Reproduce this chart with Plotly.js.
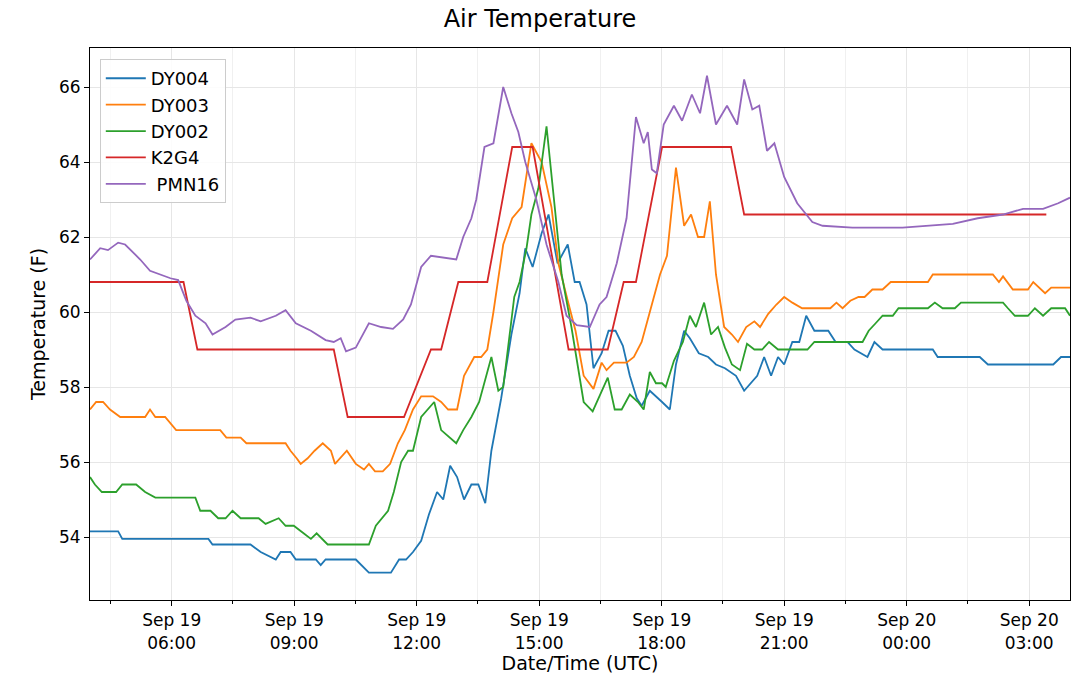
<!DOCTYPE html>
<html><head><meta charset="utf-8">
<script src="https://cdn.plot.ly/plotly-3.0.1.min.js"></script>
<style>body{margin:0;background:#fff}#c{width:1080px;height:691px}</style>
</head><body><div id="c"></div>
<script>
// hours since Sep 19 00:00 UTC, temperatures in F
const k2g4H=[4.00,6.29,6.63,9.97,10.31,11.69,12.35,12.60,13.02,13.73,14.34,14.84,15.72,16.68,17.07,17.37,18.01,19.70,20.02,27.42];
const k2g4T=[60.8,60.8,59.0,59.0,57.2,57.2,59.0,59.0,60.8,60.8,64.4,64.4,59.0,59.0,60.8,60.8,64.4,64.4,62.6,62.6];
const dy004=[[4.00,54.15],[4.69,54.15],[4.79,53.95],[6.90,53.95],[7.00,53.8],[7.93,53.8],[8.18,53.6],[8.55,53.4],[8.67,53.6],[8.91,53.6],[9.04,53.4],[9.53,53.4],[9.65,53.25],[9.77,53.4],[10.51,53.4],[10.83,53.05],[11.37,53.05],[11.57,53.4],[11.74,53.4],[11.91,53.6],[12.11,53.9],[12.30,54.6],[12.50,55.2],[12.65,55.0],[12.82,55.9],[12.99,55.6],[13.16,55.0],[13.34,55.4],[13.51,55.4],[13.68,54.9],[13.83,56.3],[14.07,57.7],[14.32,59.4],[14.52,60.5],[14.66,61.7],[14.84,61.2],[15.06,62.1],[15.23,62.6],[15.45,61.3],[15.70,61.8],[15.87,60.8],[15.99,60.8],[16.16,60.2],[16.33,58.5],[16.53,58.9],[16.70,59.5],[16.87,59.5],[17.05,59.1],[17.22,58.3],[17.39,57.7],[17.51,57.5],[17.71,57.9],[18.01,57.6],[18.20,57.4],[18.35,58.6],[18.55,59.5],[18.69,59.3],[18.91,58.9],[19.14,58.8],[19.33,58.6],[19.55,58.5],[19.82,58.3],[20.02,57.9],[20.19,58.1],[20.34,58.3],[20.51,58.8],[20.68,58.3],[20.85,58.8],[21.00,58.6],[21.20,59.2],[21.37,59.2],[21.54,59.9],[21.74,59.5],[22.08,59.5],[22.26,59.2],[22.55,59.2],[22.72,59.0],[23.04,58.8],[23.21,59.2],[23.41,59.0],[24.64,59.0],[24.76,58.8],[25.79,58.8],[25.99,58.6],[27.59,58.6],[27.78,58.8],[28.0,58.8]];
const dy003=[[4.00,57.4],[4.15,57.6],[4.32,57.6],[4.49,57.4],[4.74,57.2],[5.35,57.2],[5.47,57.4],[5.60,57.2],[5.84,57.2],[6.11,56.85],[7.19,56.85],[7.34,56.65],[7.69,56.65],[7.83,56.5],[8.79,56.5],[8.91,56.3],[9.06,56.1],[9.16,55.95],[9.33,56.1],[9.50,56.3],[9.70,56.5],[9.90,56.3],[10.00,55.95],[10.29,56.3],[10.51,55.95],[10.71,55.8],[10.83,55.95],[10.98,55.75],[11.17,55.75],[11.35,55.95],[11.54,56.5],[11.71,56.85],[11.91,57.4],[12.11,57.75],[12.40,57.75],[12.60,57.6],[12.77,57.4],[12.99,57.4],[13.16,58.3],[13.41,58.8],[13.58,58.8],[13.73,59.0],[13.88,60.0],[14.12,61.8],[14.34,62.5],[14.57,62.8],[14.81,64.5],[15.06,64.0],[15.30,62.8],[15.47,61.3],[15.70,60.3],[15.89,59.5],[16.09,58.3],[16.33,57.95],[16.53,58.65],[16.65,58.45],[16.83,58.65],[17.14,58.65],[17.32,58.8],[17.51,59.2],[17.71,60.0],[17.96,61.0],[18.13,61.5],[18.35,63.85],[18.55,62.3],[18.72,62.6],[18.89,62.0],[19.04,62.0],[19.18,62.95],[19.33,61.0],[19.53,59.6],[19.72,59.4],[19.87,59.2],[20.07,59.6],[20.27,59.75],[20.41,59.6],[20.61,59.95],[20.81,60.2],[21.00,60.4],[21.20,60.25],[21.44,60.1],[22.13,60.1],[22.28,60.25],[22.43,60.1],[22.62,60.3],[22.82,60.4],[22.97,60.4],[23.16,60.6],[23.41,60.6],[23.61,60.8],[24.52,60.8],[24.64,61.0],[26.11,61.0],[26.26,60.8],[26.36,60.95],[26.60,60.6],[26.97,60.6],[27.10,60.8],[27.39,60.5],[27.54,60.65],[28.0,60.65]];
const dy002=[[4.00,55.6],[4.12,55.4],[4.29,55.2],[4.64,55.2],[4.79,55.4],[5.13,55.4],[5.35,55.2],[5.60,55.05],[6.58,55.05],[6.70,54.7],[6.95,54.7],[7.14,54.5],[7.32,54.5],[7.49,54.7],[7.69,54.5],[8.13,54.5],[8.30,54.35],[8.62,54.5],[8.79,54.3],[8.99,54.3],[9.23,54.1],[9.41,53.95],[9.55,54.1],[9.82,53.8],[10.83,53.8],[11.00,54.3],[11.30,54.7],[11.44,55.2],[11.62,56.0],[11.79,56.3],[11.91,56.3],[12.11,57.2],[12.43,57.6],[12.60,56.85],[12.97,56.5],[13.14,56.85],[13.34,57.2],[13.53,57.6],[13.83,58.8],[14.00,57.9],[14.12,58.0],[14.39,60.4],[14.52,60.8],[14.69,61.7],[14.81,62.6],[14.98,63.3],[15.18,64.95],[15.35,63.2],[15.55,61.0],[15.79,59.6],[16.09,57.6],[16.31,57.35],[16.48,57.75],[16.68,58.25],[16.85,57.4],[17.02,57.4],[17.22,57.8],[17.42,57.6],[17.56,57.4],[17.71,58.4],[17.86,58.1],[18.01,58.1],[18.10,58.0],[18.30,58.7],[18.52,59.2],[18.69,59.9],[18.84,59.6],[19.04,60.25],[19.21,59.4],[19.38,59.6],[19.55,59.05],[19.72,58.6],[19.92,58.45],[20.09,59.15],[20.27,59.0],[20.46,59.0],[20.63,59.2],[20.85,59.0],[21.57,59.0],[21.74,59.2],[22.92,59.2],[23.07,59.5],[23.24,59.7],[23.41,59.9],[23.66,59.9],[23.80,60.1],[24.52,60.1],[24.69,60.25],[24.88,60.1],[25.18,60.1],[25.33,60.25],[26.36,60.25],[26.48,60.1],[26.65,59.9],[26.97,59.9],[27.14,60.1],[27.34,59.9],[27.54,60.1],[27.88,60.1],[28.0,59.9]];
const pmn16=[[4.00,61.4],[4.25,61.7],[4.44,61.65],[4.69,61.85],[4.86,61.8],[5.23,61.4],[5.47,61.1],[5.97,60.9],[6.16,60.85],[6.36,60.3],[6.58,59.9],[6.83,59.7],[7.00,59.4],[7.32,59.6],[7.56,59.8],[7.93,59.85],[8.18,59.75],[8.55,59.9],[8.79,60.05],[9.04,59.7],[9.41,59.5],[9.77,59.25],[9.97,59.2],[10.14,59.3],[10.27,58.95],[10.51,59.05],[10.83,59.7],[11.13,59.6],[11.42,59.55],[11.67,59.8],[11.86,60.2],[12.11,61.2],[12.35,61.5],[12.72,61.45],[12.97,61.4],[13.14,62.0],[13.34,62.5],[13.46,63.0],[13.66,64.4],[13.88,64.5],[14.12,66.0],[14.32,65.3],[14.49,64.8],[14.66,64.0],[14.93,63.0],[15.18,61.8],[15.47,60.8],[15.67,59.9],[15.92,59.65],[16.24,59.6],[16.48,60.2],[16.65,60.4],[16.90,61.3],[17.14,62.5],[17.37,65.2],[17.56,64.5],[17.66,64.8],[17.76,63.8],[17.88,63.7],[18.05,65.0],[18.30,65.5],[18.50,65.1],[18.74,65.8],[18.94,65.3],[19.11,66.3],[19.33,65.0],[19.60,65.5],[19.85,65.0],[20.02,66.2],[20.22,65.4],[20.39,65.5],[20.58,64.3],[20.76,64.5],[21.00,63.6],[21.32,62.9],[21.69,62.4],[21.94,62.3],[22.67,62.25],[23.90,62.25],[25.13,62.35],[25.74,62.5],[26.36,62.6],[26.85,62.75],[27.34,62.75],[27.71,62.9],[28.0,63.05]];
const tickHours=[6,9,12,15,18,21,24,27];
const tickLabels=["Sep 19<br>06:00","Sep 19<br>09:00","Sep 19<br>12:00","Sep 19<br>15:00","Sep 19<br>18:00","Sep 19<br>21:00","Sep 20<br>00:00","Sep 20<br>03:00"];

const base=Date.UTC(2019,8,19);
const t=h=>base+h*3600000;
function tr(name,hs,vs,color){return {x:hs.map(t),y:vs,name:name,mode:'lines',type:'scatter',line:{color:color,width:1.8}};}
const data=[
 tr('DY004',dy004.map(p=>p[0]),dy004.map(p=>p[1]),'#1f77b4'),
 tr('DY003',dy003.map(p=>p[0]),dy003.map(p=>p[1]),'#ff7f0e'),
 tr('DY002',dy002.map(p=>p[0]),dy002.map(p=>p[1]),'#2ca02c'),
 tr('K2G4',k2g4H,k2g4T,'#d62728'),
 tr(' PMN16',pmn16.map(p=>p[0]),pmn16.map(p=>p[1]),'#9467bd')
];
const layout={
 width:1080,height:691,margin:{l:90,r:10,t:48,b:91},
 paper_bgcolor:'#fff',plot_bgcolor:'#fff',
 font:{family:'DejaVu Sans',size:17,color:'#000'},
 title:{text:'Air Temperature',font:{family:'DejaVu Sans',size:24,color:'#000'},x:0.5,xanchor:'center',y:0.985,yanchor:'top'},
 xaxis:{type:'date',range:[t(4),t(28)],tickmode:'array',tickvals:tickHours.map(t),ticktext:tickLabels,
  ticks:'outside',ticklen:5,tickcolor:'#000',showline:true,mirror:true,linecolor:'#000',linewidth:1,
  showgrid:true,gridcolor:'#e6e6e6',zeroline:false,tickfont:{size:17},
  minor:{tickmode:'array',tickvals:[4.5,7.5,10.5,13.5,16.5,19.5,22.5,25.5].map(t),ticks:'outside',ticklen:3,tickcolor:'#000',showgrid:true,gridcolor:'#f0f0f0'},
  title:{text:'Date/Time (UTC)',font:{size:19},standoff:4}},
 yaxis:{range:[52.32,67.04],tickvals:[54,56,58,60,62,64,66],ticks:'outside',ticklen:5,tickcolor:'#000',
  showline:true,mirror:true,linecolor:'#000',linewidth:1,showgrid:true,gridcolor:'#e6e6e6',zeroline:false,tickfont:{size:17},
  title:{text:'Temperature (F)',font:{size:19},standoff:8}},
 legend:{x:0.01,y:0.98,xanchor:'left',yanchor:'top',bordercolor:'#ccc',borderwidth:1,bgcolor:'rgba(255,255,255,0.85)',font:{size:18},itemwidth:40,tracegroupgap:0},
 showlegend:true
};
Plotly.newPlot('c',data,layout,{displayModeBar:false,staticPlot:true});
</script></body></html>
